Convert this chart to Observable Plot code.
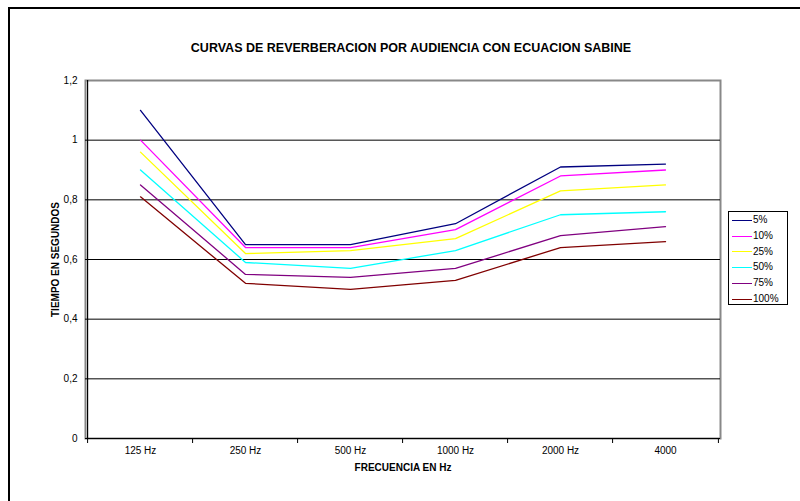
<!DOCTYPE html>
<html>
<head>
<meta charset="utf-8">
<script src="https://cdn.jsdelivr.net/npm/d3@7"></script>
<script src="https://cdn.jsdelivr.net/npm/@observablehq/plot@0.6"></script>
<style>
  html, body { margin: 0; padding: 0; background: #fff; }
  #wrap { position: relative; width: 800px; height: 501px; overflow: hidden; font-family: "Liberation Sans", Arial, sans-serif; }
  #border { position: absolute; left: 8px; top: 7px; width: 900px; height: 600px; border-left: 2px solid #000; border-top: 2px solid #000; }
  #legend { position: absolute; left: 728px; top: 211px; width: 58px; height: 92px; border: 1px solid #000; background: #fff; font-size: 10px; }
  .item { position: absolute; left: 3px; height: 14px; line-height: 14px; white-space: nowrap; }
  .swatch { display: inline-block; width: 20px; height: 0; border-top-width: 1.5px; border-top-style: solid; vertical-align: middle; margin-right: 1px; }
  svg { position: absolute; left: 0; top: 0; }
</style>
</head>
<body>
<div id="wrap"><div id="border"></div></div>
<script>
const categories = ["125 Hz", "250 Hz", "500 Hz", "1000 Hz", "2000 Hz", "4000"];
const seriesNames = ["5%", "10%", "25%", "50%", "75%", "100%"];
const seriesColors = ["#000080", "#FF00FF", "#FFFF00", "#00FFFF", "#800080", "#800000"];
const s5   = [1.10, 0.65, 0.65, 0.72, 0.91, 0.92];
const s10  = [1.00, 0.64, 0.64, 0.70, 0.88, 0.90];
const s25  = [0.96, 0.62, 0.63, 0.67, 0.83, 0.85];
const s50  = [0.90, 0.59, 0.57, 0.63, 0.75, 0.76];
const s75  = [0.85, 0.55, 0.54, 0.57, 0.68, 0.71];
const s100 = [0.81, 0.52, 0.50, 0.53, 0.64, 0.66];
const yTicks = [0, 0.2, 0.4, 0.6, 0.8, 1.0, 1.2];
const title = "CURVAS DE REVERBERACION POR AUDIENCIA CON ECUACION SABINE";
const xLabel = "FRECUENCIA EN Hz";
const yLabel = "TIEMPO EN SEGUNDOS";

const allSeries = [s5, s10, s25, s50, s75, s100];
const data = [];
allSeries.forEach((vals, si) => vals.forEach((v, ci) => data.push({series: seriesNames[si], cat: categories[ci], value: v})));

const W = 800, H = 501, ML = 85, MR = 80, MT = 80, MB = 63;
const step = (W - ML - MR) / categories.length;
const fmt = d => String(+d.toFixed(1)).replace(".", ",");

const chart = Plot.plot({
  width: W, height: H,
  marginLeft: ML, marginRight: MR, marginTop: MT, marginBottom: MB,
  style: {fontFamily: "'Liberation Sans', Arial, sans-serif", fontSize: "10px", color: "#000", background: "transparent", overflow: "visible"},
  x: {type: "point", domain: categories, padding: 0.5, axis: null},
  y: {domain: [0, 1.2], axis: null},
  color: {domain: seriesNames, range: seriesColors},
  marks: [
    Plot.frame({stroke: "#888", strokeWidth: 2}),
    Plot.ruleY(yTicks.filter(d => d > 0 && d < 1.2), {stroke: "#000", strokeWidth: 1}),
    Plot.ruleY([0], {stroke: "#000", strokeWidth: 1.2}),
    Plot.ruleX([categories[0]], {dx: -step / 2, stroke: "#000", strokeWidth: 1.2}),
    // x tick marks at category boundaries
    Plot.ruleX(categories, {x: d => d, y1: 0, y2: 0, dx: -step / 2, insetBottom: -5, stroke: "#000"}),
    Plot.ruleX([categories[categories.length - 1]], {y1: 0, y2: 0, dx: step / 2, insetBottom: -5, stroke: "#000"}),
    // y tick marks
    Plot.ruleY(yTicks, {y: d => d, x1: categories[0], x2: categories[0], dx: -step / 2, insetLeft: -4, stroke: "#000"}),
    Plot.text(yTicks, {y: d => d, text: fmt, frameAnchor: "left", textAnchor: "end", dx: -8, fontSize: 10}),
    Plot.text(categories, {x: d => d, frameAnchor: "bottom", dy: 15, fontSize: 10}),
    // series lines
    Plot.line(data, {x: "cat", y: "value", z: "series", stroke: "series", strokeWidth: 1.3}),
    // titles
    Plot.text([title], {frameAnchor: "top", dy: -37, dx: 8, fontWeight: "bold", fontSize: 12.5}),
    Plot.text([xLabel], {frameAnchor: "bottom", dy: 32, fontWeight: "bold", fontSize: 10}),
    Plot.text([yLabel], {frameAnchor: "left", textAnchor: "middle", rotate: -90, dx: -30, fontWeight: "bold", fontSize: 10})
  ]
});
document.getElementById("wrap").appendChild(chart);

const legend = document.createElement("div");
legend.id = "legend";
seriesNames.forEach((name, i) => {
  const it = document.createElement("div");
  it.className = "item";
  it.style.top = (1 + i * 15.8) + "px";
  const sw = document.createElement("span");
  sw.className = "swatch";
  sw.style.borderTopColor = seriesColors[i];
  it.appendChild(sw);
  it.appendChild(document.createTextNode(name));
  legend.appendChild(it);
});
document.getElementById("wrap").appendChild(legend);
</script>
</body>
</html>
